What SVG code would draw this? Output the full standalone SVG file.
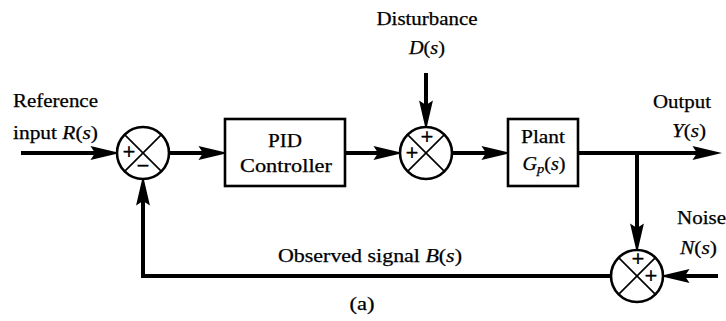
<svg xmlns="http://www.w3.org/2000/svg" width="726" height="321" viewBox="0 0 726 321">
<defs>
<marker id="ah" markerUnits="userSpaceOnUse" markerWidth="30" markerHeight="16" viewBox="0 0 26 12" refX="10" refY="6" orient="auto">
<path d="M0,0 L26,6 L0,12 L4,6 z" fill="#000"/>
</marker>
<style>
text{font-family:"Liberation Serif","Times New Roman",serif;font-size:18px;fill:#000;stroke:#000;stroke-width:0.25}
.i{font-style:italic}
.sg{font-size:22px;text-anchor:middle;stroke-width:0.6}
.blk{fill:#fff;stroke:#000;stroke-width:2.6}
.sum{fill:#fff;stroke:#000;stroke-width:2.6}
.x{stroke:#000;stroke-width:1.6}
.w{fill:none;stroke:#000;stroke-width:4}
.m{text-anchor:middle}
</style>
</defs>
<rect width="726" height="321" fill="#fff"/>
<g id="connectors">
<path class="w" d="M21,153 H102" marker-end="url(#ah)"/>
<path class="w" d="M169,153 H210" marker-end="url(#ah)"/>
<path class="w" d="M345,153 H385" marker-end="url(#ah)"/>
<path class="w" d="M426,73 V112" marker-end="url(#ah)"/>
<path class="w" d="M452,153 H493" marker-end="url(#ah)"/>
<path class="w" d="M578,153 H704" marker-end="url(#ah)"/>
<path class="w" d="M637,153 V235" marker-end="url(#ah)"/>
<path class="w" d="M718,276 H678" marker-end="url(#ah)"/>
<path class="w" d="M611,276 H143 V194" marker-end="url(#ah)"/>
</g>
<g id="sum1">
<circle class="sum" cx="143" cy="153" r="26"/>
<path class="x" d="M124.6,134.6 L161.4,171.4 M161.4,134.6 L124.6,171.4"/>
<text class="sg" x="129" y="158.5">+</text>
<text class="sg" x="143" y="172.5">−</text>
</g>
<g id="pid">
<rect class="blk" x="225" y="119" width="120" height="67"/>
<text class="m" x="285" y="147" textLength="34" lengthAdjust="spacingAndGlyphs">PID</text>
<text class="m" x="286" y="172" textLength="92" lengthAdjust="spacingAndGlyphs">Controller</text>
</g>
<g id="sum2">
<circle class="sum" cx="426" cy="153" r="26"/>
<path class="x" d="M407.6,134.6 L444.4,171.4 M444.4,134.6 L407.6,171.4"/>
<text class="sg" x="427" y="143.5">+</text>
<text class="sg" x="412" y="159.5">+</text>
</g>
<g id="plant">
<rect class="blk" x="508" y="119" width="70" height="67"/>
<text class="m" x="543" y="143" textLength="44" lengthAdjust="spacingAndGlyphs">Plant</text>
<text class="m" x="544" y="170" textLength="43" lengthAdjust="spacingAndGlyphs"><tspan class="i">G</tspan><tspan class="i" font-size="13" dy="3">p</tspan><tspan dy="-3">(</tspan><tspan class="i">s</tspan>)</text>
</g>
<g id="sum3">
<circle class="sum" cx="637" cy="276" r="26"/>
<path class="x" d="M618.6,257.6 L655.4,294.4 M655.4,257.6 L618.6,294.4"/>
<text class="sg" x="638" y="265.5">+</text>
<text class="sg" x="651" y="282.5">+</text>
</g>
<g id="labels">
<text x="13" y="107" textLength="85" lengthAdjust="spacingAndGlyphs">Reference</text>
<text x="13" y="139" textLength="85" lengthAdjust="spacingAndGlyphs">input <tspan class="i">R</tspan>(<tspan class="i">s</tspan>)</text>
<text class="m" x="427" y="25" textLength="101" lengthAdjust="spacingAndGlyphs">Disturbance</text>
<text class="m" x="427" y="54" textLength="36" lengthAdjust="spacingAndGlyphs"><tspan class="i">D</tspan>(<tspan class="i">s</tspan>)</text>
<text class="m" x="682" y="108" textLength="58" lengthAdjust="spacingAndGlyphs">Output</text>
<text class="m" x="689" y="137" textLength="34" lengthAdjust="spacingAndGlyphs"><tspan class="i">Y</tspan>(<tspan class="i">s</tspan>)</text>
<text x="677" y="224" textLength="49" lengthAdjust="spacingAndGlyphs">Noise</text>
<text x="680" y="254" textLength="37" lengthAdjust="spacingAndGlyphs"><tspan class="i">N</tspan>(<tspan class="i">s</tspan>)</text>
<text x="278" y="262" textLength="184" lengthAdjust="spacingAndGlyphs">Observed signal <tspan class="i">B</tspan>(<tspan class="i">s</tspan>)</text>
<text class="m" x="362" y="310" textLength="25" lengthAdjust="spacingAndGlyphs">(a)</text>
</g>
</svg>
